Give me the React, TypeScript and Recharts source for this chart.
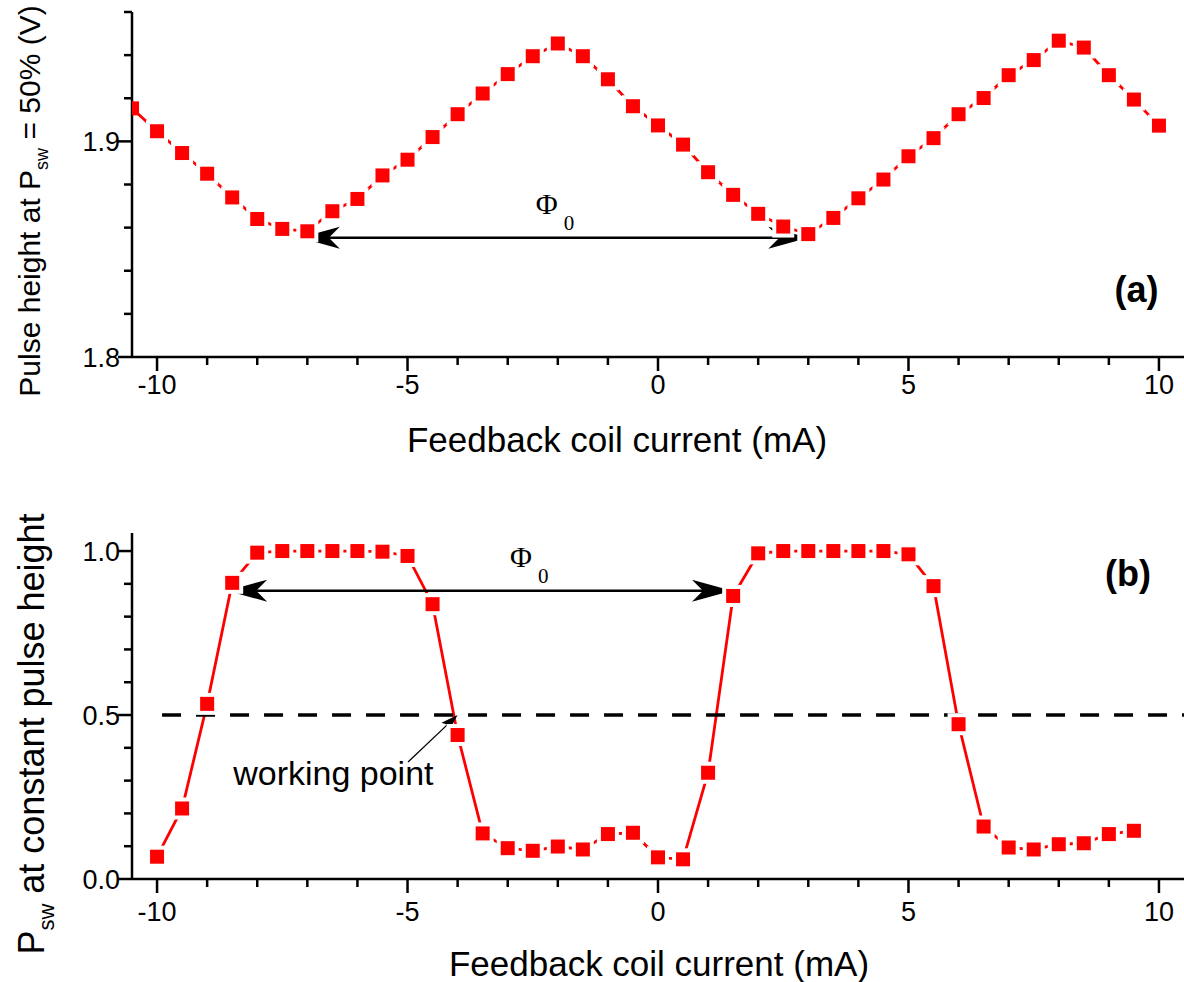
import React from "react";
import {
  LineChart,
  Line,
  XAxis,
  YAxis,
  ReferenceLine,
  ReferenceDot,
  Label,
} from "recharts";

// ---------- data ----------
const currentA = [
  -10.5, -10, -9.5, -9, -8.5, -8, -7.5, -7, -6.5, -6, -5.5, -5, -4.5, -4, -3.5,
  -3, -2.5, -2, -1.5, -1, -0.5, 0, 0.5, 1, 1.5, 2, 2.5, 3, 3.5, 4, 4.5, 5, 5.5,
  6, 6.5, 7, 7.5, 8, 8.5, 9, 9.5, 10,
];
const pulseHeight = [
  1.9153, 1.9047, 1.8946, 1.885, 1.874, 1.864, 1.8594, 1.8583, 1.8676, 1.8733,
  1.8842, 1.8915, 1.902, 1.9126, 1.9222, 1.9312, 1.9395, 1.9454, 1.9395, 1.9288,
  1.9163, 1.9074, 1.8985, 1.8857, 1.8752, 1.8664, 1.8605, 1.857, 1.8645, 1.8736,
  1.8823, 1.8931, 1.9015, 1.9126, 1.9201, 1.9307, 1.9377, 1.9467, 1.9435,
  1.9307, 1.9194, 1.9073,
];

const currentB = [
  -10, -9.5, -9, -8.5, -8, -7.5, -7, -6.5, -6, -5.5, -5, -4.5, -4, -3.5, -3,
  -2.5, -2, -1.5, -1, -0.5, 0, 0.5, 1, 1.5, 2, 2.5, 3, 3.5, 4, 4.5, 5, 5.5, 6,
  6.5, 7, 7.5, 8, 8.5, 9, 9.5,
];
const switchingProb = [
  0.068, 0.215, 0.534, 0.903, 0.995, 1.0, 1.0, 1.0, 1.0, 0.998, 0.985, 0.838,
  0.439, 0.139, 0.094, 0.086, 0.099, 0.09, 0.137, 0.141, 0.066, 0.06, 0.324,
  0.863, 0.993, 1.0, 1.0, 1.0, 1.0, 1.0, 0.99, 0.893, 0.472, 0.16, 0.096, 0.09,
  0.106, 0.109, 0.137, 0.147,
];

const xTicks = [
  -10, -9, -8, -7, -6, -5, -4, -3, -2, -1, 0, 1, 2, 3, 4, 5, 6, 7, 8, 9, 10,
];
const yTicksA = [1.8, 1.82, 1.84, 1.86, 1.88, 1.9, 1.92, 1.94, 1.96];
const yTicksB = [0, 0.1, 0.2, 0.3, 0.4, 0.5, 0.6, 0.7, 0.8, 0.9, 1.0];

const xDomain: [number, number] = [-10.5, 10.5];
const yDomainA: [number, number] = [1.8, 1.96];
const yDomainB: [number, number] = [0, 1.055];

// annotation anchors (data coordinates)
const phiArrowA = { x1: -7.15, x2: 3, y: 1.8553 };
const phiLabelA = { x: -2.44, y: 1.8665 };
const panelLabelA = { x: 9.55, y: 1.8256 };

const workingLevel = 0.5;
const phiArrowB = { x1: -8.6, x2: 1.476, y: 0.879 };
const phiLabelB = { x: -2.955, y: 0.951 };
const panelLabelB = { x: 9.38, y: 0.893 };
const wpText = { x: -8.48, y: 0.287 };
const wpArrow = { x1: -4.99, y1: 0.357, x2: -4.0, y2: 0.5 };

const dataA = currentA.map((x, i) => ({ x, y: pulseHeight[i] }));
const dataB = currentB.map((x, i) => ({ x, y: switchingProb[i] }));

// ---------- styles ----------
const SANS = "'Liberation Sans', Arial, Helvetica, sans-serif";
const SERIF = "'Liberation Serif', 'Times New Roman', 'DejaVu Serif', serif";
const RED = "#ff0000";
const AXIS_W = 2.5;
const TICK_FONT = 27;
const TITLE_FONT = 35;

const isMultiple = (v: number, step: number) =>
  Math.abs(v / step - Math.round(v / step)) < 1e-6;

const makeXTick = (labelOffset: number) => (props: any) => {
  const { x, y, payload } = props;
  const major = isMultiple(payload.value, 5);
  return (
    <g>
      <line
        x1={x}
        y1={y}
        x2={x}
        y2={y + (major ? 14 : 8)}
        stroke="#000"
        strokeWidth={AXIS_W}
      />
      {major && (
        <text
          x={x}
          y={y + labelOffset}
          textAnchor="middle"
          fontFamily={SANS}
          fontSize={TICK_FONT}
          fill="#000"
        >
          {payload.value}
        </text>
      )}
    </g>
  );
};

const makeYTick = (majorStep: number) => (props: any) => {
  const { x, y, payload } = props;
  const major = isMultiple(payload.value, majorStep);
  return (
    <g>
      <line
        x1={x}
        y1={y}
        x2={x - (major ? 14 : 8)}
        y2={y}
        stroke="#000"
        strokeWidth={AXIS_W}
      />
      {major && (
        <text
          x={x - 12}
          y={y + 10}
          textAnchor="end"
          fontFamily={SANS}
          fontSize={TICK_FONT}
          fill="#000"
        >
          {Number(payload.value).toFixed(1)}
        </text>
      )}
    </g>
  );
};

const makeDot = (edgeX: number) => (props: any) => {
  const { cx, cy, index, payload } = props;
  if (cx == null || cy == null) return <g key={index} />;
  const s = 14;
  const w = 22;
  const atEdge = payload && Math.abs(payload.x - edgeX) < 1e-9;
  return (
    <g key={index}>
      {!atEdge && (
        <rect x={cx - w / 2} y={cy - w / 2} width={w} height={w} fill="#fff" />
      )}
      <rect x={cx - s / 2} y={cy - s / 2} width={s} height={s} fill={RED} />
    </g>
  );
};

const arrowHead = (
  tx: number,
  ty: number,
  dx: number,
  dy: number,
  L: number,
  W: number,
  notch: number
) => {
  const px = -dy;
  const py = dx;
  const bx = tx + dx * L;
  const by = ty + dy * L;
  const nx = tx + dx * notch;
  const ny = ty + dy * notch;
  return `M${tx},${ty} L${bx + px * W},${by + py * W} L${nx},${ny} L${
    bx - px * W
  },${by - py * W} Z`;
};

const DoubleArrow = (props: any) => {
  const { x1, y1, x2, y2 } = props;
  const len = Math.hypot(x2 - x1, y2 - y1) || 1;
  const ux = (x2 - x1) / len;
  const uy = (y2 - y1) / len;
  return (
    <g>
      <line
        x1={x1 + ux * 22}
        y1={y1 + uy * 22}
        x2={x2 - ux * 22}
        y2={y2 - uy * 22}
        stroke="#000"
        strokeWidth={2.4}
      />
      <path d={arrowHead(x1, y1, ux, uy, 40, 11, 29)} fill="#000" />
      <path d={arrowHead(x2, y2, -ux, -uy, 40, 11, 29)} fill="#000" />
    </g>
  );
};

const SmallArrow = (props: any) => {
  const { x1, y1, x2, y2 } = props;
  const len = Math.hypot(x2 - x1, y2 - y1) || 1;
  const ux = (x2 - x1) / len;
  const uy = (y2 - y1) / len;
  return (
    <g>
      <line
        x1={x1}
        y1={y1}
        x2={x2 - ux * 10}
        y2={y2 - uy * 10}
        stroke="#000"
        strokeWidth={1.3}
      />
      <path d={arrowHead(x2, y2, -ux, -uy, 17, 5.5, 14)} fill="#000" />
    </g>
  );
};

const PhiLabel = (props: any) => (
  <text x={props.cx} y={props.cy} fontFamily={SERIF} fontSize={30} fill="#000">
    Φ
    <tspan dx={6} dy={16} fontSize={21}>
      0
    </tspan>
  </text>
);

const makeTextShape =
  (text: string, opts: { bold?: boolean; size: number; anchor?: string }) =>
  (props: any) =>
    (
      <text
        x={props.cx}
        y={props.cy}
        fontFamily={SANS}
        fontSize={opts.size}
        fontWeight={opts.bold ? "bold" : "normal"}
        textAnchor={opts.anchor || "start"}
        fill="#000"
      >
        {text}
      </text>
    );

const XTitle = (centerX: number, offset: number) => (props: any) => {
  const vb = props.viewBox || {};
  return (
    <text
      x={centerX}
      y={vb.y + offset}
      textAnchor="middle"
      fontFamily={SANS}
      fontSize={TITLE_FONT}
      fill="#000"
    >
      Feedback coil current (mA)
    </text>
  );
};

const YTitle =
  (
    before: string,
    after: string,
    baseX: number,
    centerY: number,
    size: number
  ) =>
  () =>
    (
      <text
        transform={`translate(${baseX},${centerY}) rotate(-90)`}
        textAnchor="middle"
        fontFamily={SANS}
        fontSize={size}
        fill="#000"
      >
        {before}
        <tspan fontSize={Math.round(size * 0.6)} dy={size * 0.27}>
          sw
        </tspan>
        <tspan dy={-size * 0.27}>{after}</tspan>
      </text>
    );

export default function App() {
  return (
    <div
      style={{
        position: "absolute",
        left: 0,
        top: 0,
        width: 1184,
        height: 982,
        background: "#fff",
        overflow: "hidden",
      }}
    >
      <LineChart
        width={1184}
        height={470}
        data={dataA}
        margin={{ top: 12, right: 0, left: 0, bottom: 0 }}
      >
        <XAxis
          dataKey="x"
          type="number"
          domain={xDomain}
          ticks={xTicks}
          interval={0}
          allowDataOverflow
          axisLine={{ stroke: "#000", strokeWidth: AXIS_W }}
          tickLine={false}
          tickSize={0}
          tickMargin={0}
          tick={makeXTick(37)}
          height={113}
        >
          <Label content={XTitle(617, 95)} />
        </XAxis>
        <YAxis
          type="number"
          domain={yDomainA}
          ticks={yTicksA}
          interval={0}
          allowDataOverflow
          axisLine={{ stroke: "#000", strokeWidth: AXIS_W }}
          tickLine={false}
          tickSize={0}
          tickMargin={0}
          tick={makeYTick(0.1)}
          width={132}
        >
          <Label
            content={YTitle("Pulse height at P", " = 50% (V)", 40, 201, 30)}
          />
        </YAxis>
        <Line
          dataKey="y"
          stroke={RED}
          strokeWidth={2.8}
          isAnimationActive={false}
          dot={makeDot(-10.5)}
          activeDot={false}
        />
        <ReferenceLine
          segment={[
            { x: phiArrowA.x1, y: phiArrowA.y },
            { x: phiArrowA.x2, y: phiArrowA.y },
          ]}
          shape={DoubleArrow}
        />
        <ReferenceDot x={phiLabelA.x} y={phiLabelA.y} r={0} shape={PhiLabel} />
        <ReferenceDot
          x={panelLabelA.x}
          y={panelLabelA.y}
          r={0}
          shape={makeTextShape("(a)", { bold: true, size: 36, anchor: "middle" })}
        />
      </LineChart>
      <LineChart
        width={1184}
        height={512}
        data={dataB}
        margin={{ top: 63, right: 0, left: 0, bottom: 0 }}
      >
        <XAxis
          dataKey="x"
          type="number"
          domain={xDomain}
          ticks={xTicks}
          interval={0}
          allowDataOverflow
          axisLine={{ stroke: "#000", strokeWidth: AXIS_W }}
          tickLine={false}
          tickSize={0}
          tickMargin={0}
          tick={makeXTick(42)}
          height={103}
        >
          <Label content={XTitle(659, 97)} />
        </XAxis>
        <YAxis
          type="number"
          domain={yDomainB}
          ticks={yTicksB}
          interval={0}
          allowDataOverflow
          axisLine={{ stroke: "#000", strokeWidth: AXIS_W }}
          tickLine={false}
          tickSize={0}
          tickMargin={0}
          tick={makeYTick(0.5)}
          width={132}
        >
          <Label
            content={YTitle("P", " at constant pulse height", 44, 264, 36)}
          />
        </YAxis>
        <Line
          dataKey="y"
          stroke={RED}
          strokeWidth={2.8}
          isAnimationActive={false}
          dot={makeDot(-10.5)}
          activeDot={false}
        />
        <ReferenceLine
          segment={[
            { x: -9.9, y: workingLevel },
            { x: 10.5, y: workingLevel },
          ]}
          stroke="#000"
          strokeWidth={3.5}
          strokeDasharray="19 15"
        />
        <ReferenceLine
          segment={[
            { x: phiArrowB.x1, y: phiArrowB.y },
            { x: phiArrowB.x2, y: phiArrowB.y },
          ]}
          shape={DoubleArrow}
        />
        <ReferenceLine
          segment={[
            { x: wpArrow.x1, y: wpArrow.y1 },
            { x: wpArrow.x2, y: wpArrow.y2 },
          ]}
          shape={SmallArrow}
        />
        <ReferenceDot x={phiLabelB.x} y={phiLabelB.y} r={0} shape={PhiLabel} />
        <ReferenceDot
          x={wpText.x}
          y={wpText.y}
          r={0}
          shape={makeTextShape("working point", { size: 34 })}
        />
        <ReferenceDot
          x={panelLabelB.x}
          y={panelLabelB.y}
          r={0}
          shape={makeTextShape("(b)", { bold: true, size: 36, anchor: "middle" })}
        />
      </LineChart>
    </div>
  );
}
